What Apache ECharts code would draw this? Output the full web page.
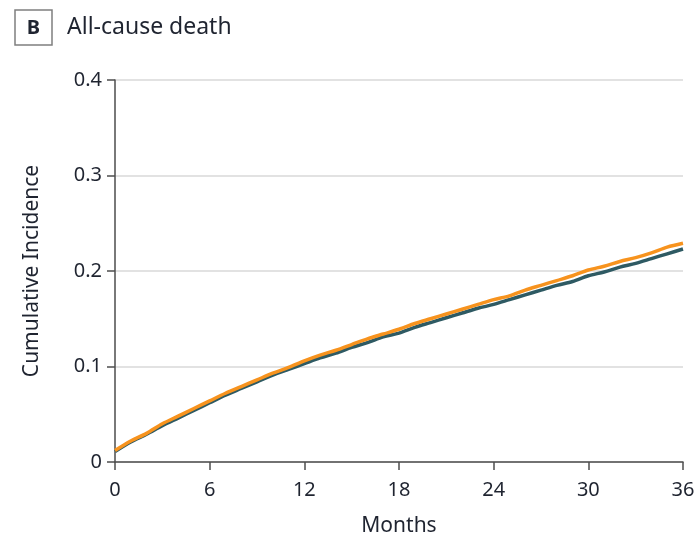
<!DOCTYPE html>
<html>
<head>
<meta charset="utf-8">
<script src="https://cdn.jsdelivr.net/npm/echarts@6/dist/echarts.min.js"></script>
<style>
  html, body { margin: 0; padding: 0; background: #fff; }
  #main { width: 697px; height: 539px; }
</style>
</head>
<body>
<div id="main"></div>
<script>
// months 0..36
var months = [];
for (var m = 0; m <= 36; m++) months.push(m);

// orange curve (upper)
var orangeVals = [0.012, 0.022, 0.030, 0.040, 0.048, 0.056, 0.064, 0.072, 0.079, 0.086,
  0.093, 0.099, 0.106, 0.112, 0.117, 0.123, 0.129, 0.134, 0.139, 0.145,
  0.150, 0.155, 0.160, 0.165, 0.170, 0.174, 0.180, 0.185, 0.190, 0.195,
  0.201, 0.205, 0.210, 0.214, 0.219, 0.225, 0.229];
// dark teal curve (lower)
var tealVals = [0.011, 0.021, 0.029, 0.038, 0.046, 0.054, 0.062, 0.070, 0.077, 0.084,
  0.091, 0.097, 0.103, 0.109, 0.114, 0.120, 0.125, 0.131, 0.135, 0.141,
  0.146, 0.151, 0.156, 0.161, 0.165, 0.170, 0.175, 0.180, 0.185, 0.189,
  0.195, 0.199, 0.204, 0.208, 0.213, 0.218, 0.223];

var xTicks = [0, 6, 12, 18, 24, 30, 36];
var yTicks = [0, 0.1, 0.2, 0.3, 0.4];

function pairs(vals) {
  return months.map(function (m, i) { return [m, vals[i]]; });
}

var chart = echarts.init(document.getElementById('main'));
var font = '"Noto Sans", sans-serif';
var textColor = '#1f2430';
var axisColor = '#4d4d4d';

var option = {
  animation: false,
  grid: { left: 115, right: 14, top: 80, bottom: 77, outerBoundsMode: 'none', containLabel: false },
  graphic: [
    { type: 'rect', shape: { x: 15, y: 10, width: 37, height: 35 },
      style: { fill: '#fff', stroke: '#7f7f7f', lineWidth: 1.5 } },
    { type: 'text', x: 33.5, y: 28,
      style: { text: 'B', font: 'bold 20px ' + font, fill: textColor, align: 'center', verticalAlign: 'middle' } },
    { type: 'text', x: 67, y: 27,
      style: { text: 'All-cause death', font: '23px ' + font, fill: textColor, verticalAlign: 'middle' } }
  ],
  xAxis: {
    type: 'value',
    min: 0, max: 36, interval: 6,
    name: 'Months',
    nameLocation: 'middle',
    nameGap: 54,
    nameTextStyle: { fontFamily: font, fontSize: 21, color: textColor },
    axisLine: { show: true, lineStyle: { color: axisColor, width: 1.5 } },
    axisTick: { show: true, length: 8, lineStyle: { color: axisColor, width: 1.5 } },
    axisLabel: { fontFamily: font, fontSize: 20, color: textColor, margin: 18 },
    splitLine: { show: false }
  },
  yAxis: {
    type: 'value',
    min: 0, max: 0.4, interval: 0.1,
    name: 'Cumulative Incidence',
    nameLocation: 'middle',
    nameGap: 72,
    nameTextStyle: { fontFamily: font, fontSize: 21, color: textColor },
    axisLine: { show: true, lineStyle: { color: axisColor, width: 1.5 } },
    axisTick: { show: true, length: 8, lineStyle: { color: axisColor, width: 1.5 } },
    axisLabel: {
      fontFamily: font, fontSize: 20, color: textColor, margin: 13,
      formatter: function (v) { return v === 0 ? '0' : v.toFixed(1); }
    },
    splitLine: { show: true, lineStyle: { color: '#d9d9d9', width: 1.5 } }
  },
  series: [
    {
      name: 'teal',
      type: 'line',
      data: pairs(tealVals),
      showSymbol: false,
      smooth: 0.3,
      lineStyle: { color: '#2e5a63', width: 3.5 },
      z: 2
    },
    {
      name: 'orange',
      type: 'line',
      data: pairs(orangeVals),
      showSymbol: false,
      smooth: 0.3,
      lineStyle: { color: '#f7931e', width: 3.5 },
      z: 3
    }
  ]
};

chart.setOption(option);
</script>
</body>
</html>
